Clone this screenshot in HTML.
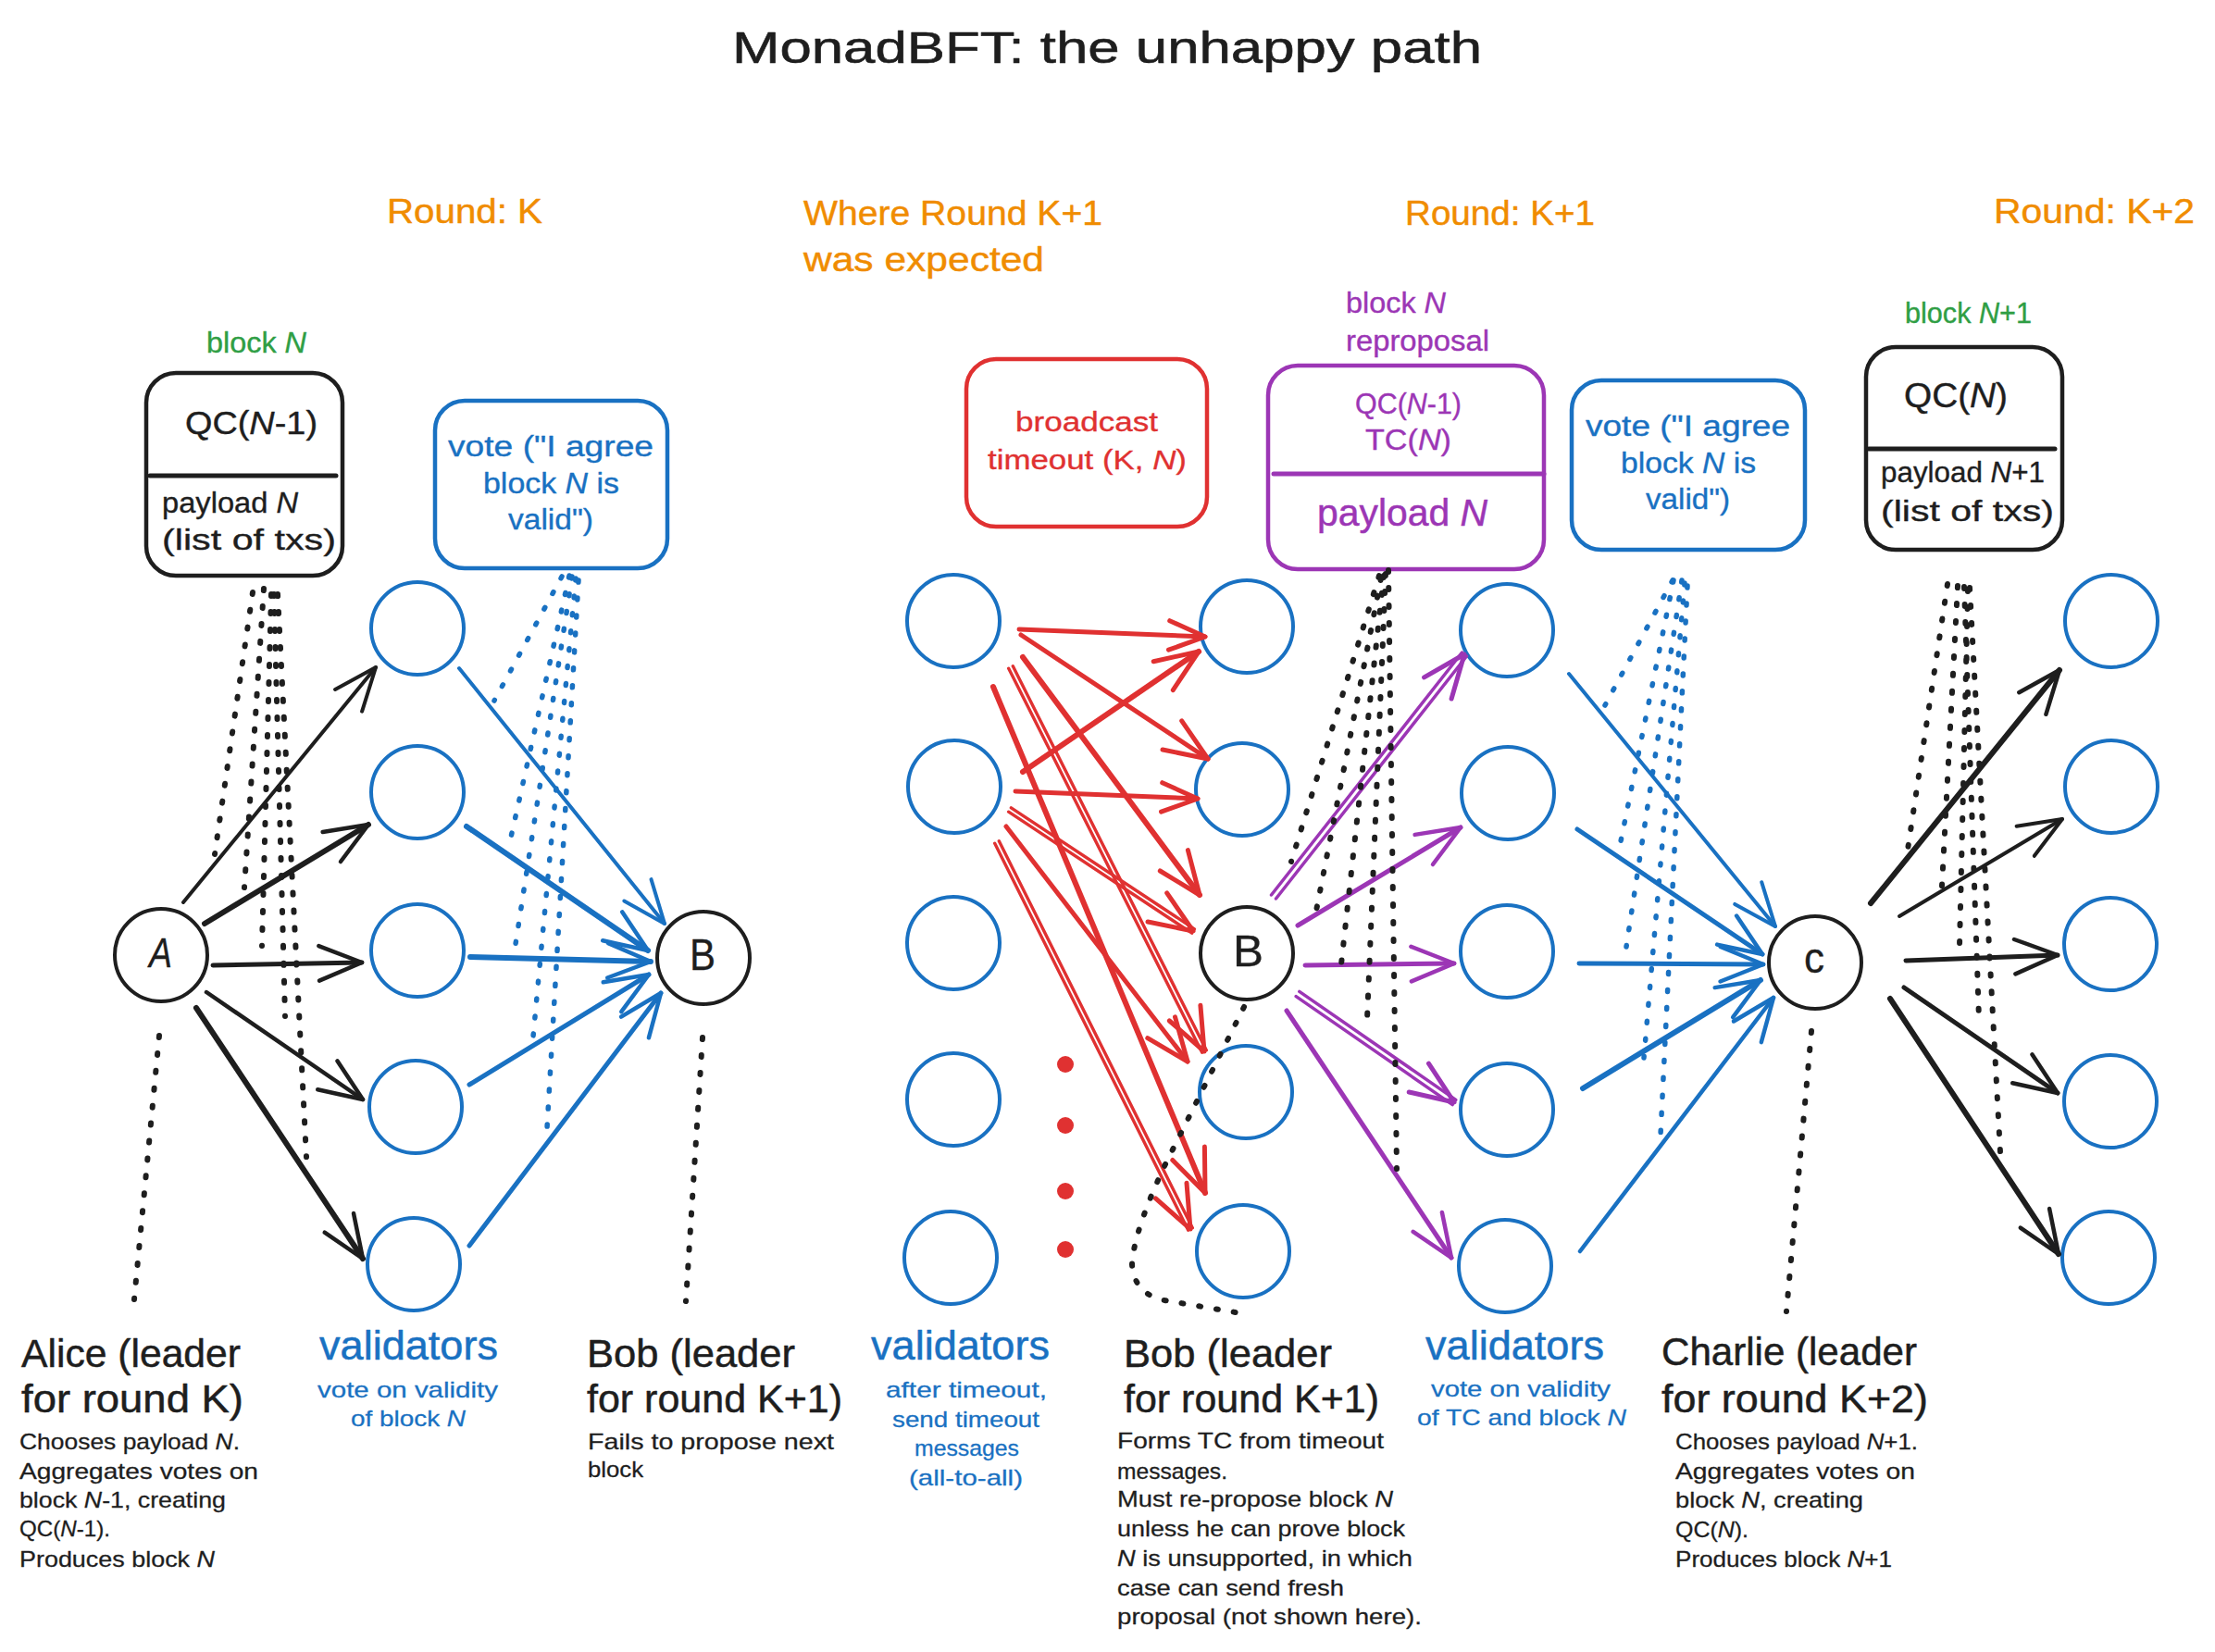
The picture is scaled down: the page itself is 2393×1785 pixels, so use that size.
<!DOCTYPE html>
<html><head><meta charset="utf-8"><style>
html,body{margin:0;padding:0;background:#fff;overflow:hidden;}
svg{display:block;}
text{font-family:"Liberation Sans",sans-serif;}
</style></head><body>
<svg width="2393" height="1785" viewBox="0 0 2393 1785">
<rect width="2393" height="1785" fill="#ffffff"/>
<text x="791" y="68" font-size="48" fill="#1e1e1e" stroke="#1e1e1e" stroke-width="0.58" stroke-linejoin="round" font-weight="normal" textLength="810" lengthAdjust="spacingAndGlyphs">MonadBFT: the unhappy path</text>
<text x="418" y="241" font-size="37" fill="#f08c00" stroke="#f08c00" stroke-width="0.44" stroke-linejoin="round" font-weight="normal" textLength="168" lengthAdjust="spacingAndGlyphs">Round: K</text>
<text x="868" y="243" font-size="37" fill="#f08c00" stroke="#f08c00" stroke-width="0.44" stroke-linejoin="round" font-weight="normal" textLength="323" lengthAdjust="spacingAndGlyphs">Where Round K+1</text>
<text x="868" y="293" font-size="37" fill="#f08c00" stroke="#f08c00" stroke-width="0.44" stroke-linejoin="round" font-weight="normal" textLength="260" lengthAdjust="spacingAndGlyphs">was expected</text>
<text x="1518" y="243" font-size="37" fill="#f08c00" stroke="#f08c00" stroke-width="0.44" stroke-linejoin="round" font-weight="normal" textLength="205" lengthAdjust="spacingAndGlyphs">Round: K+1</text>
<text x="2154" y="241" font-size="37" fill="#f08c00" stroke="#f08c00" stroke-width="0.44" stroke-linejoin="round" font-weight="normal" textLength="217" lengthAdjust="spacingAndGlyphs">Round: K+2</text>
<text x="223" y="381" font-size="31" fill="#2f9e44" stroke="#2f9e44" stroke-width="0.37" stroke-linejoin="round" font-weight="normal" textLength="108" lengthAdjust="spacingAndGlyphs">block <tspan font-style="italic">N</tspan></text>
<text x="2058" y="349" font-size="31" fill="#2f9e44" stroke="#2f9e44" stroke-width="0.37" stroke-linejoin="round" font-weight="normal" textLength="137" lengthAdjust="spacingAndGlyphs">block <tspan font-style="italic">N</tspan>+1</text>
<text x="1454" y="338" font-size="31" fill="#9c36b5" stroke="#9c36b5" stroke-width="0.37" stroke-linejoin="round" font-weight="normal" textLength="108" lengthAdjust="spacingAndGlyphs">block <tspan font-style="italic">N</tspan></text>
<text x="1454" y="379" font-size="31" fill="#9c36b5" stroke="#9c36b5" stroke-width="0.37" stroke-linejoin="round" font-weight="normal" textLength="155" lengthAdjust="spacingAndGlyphs">reproposal</text>
<rect x="158" y="403" width="212" height="219" rx="32" ry="32" fill="none" stroke="#1e1e1e" stroke-width="4.5"/>
<line x1="162" y1="514" x2="363" y2="514" stroke="#1e1e1e" stroke-width="5" stroke-linecap="round"/>
<text x="200" y="469" font-size="35" fill="#1e1e1e" stroke="#1e1e1e" stroke-width="0.42" stroke-linejoin="round" font-weight="normal" textLength="143" lengthAdjust="spacingAndGlyphs">QC(<tspan font-style="italic">N</tspan>-1)</text>
<text x="175" y="554" font-size="31" fill="#1e1e1e" stroke="#1e1e1e" stroke-width="0.37" stroke-linejoin="round" font-weight="normal" textLength="147" lengthAdjust="spacingAndGlyphs">payload <tspan font-style="italic">N</tspan></text>
<text x="175" y="594" font-size="31" fill="#1e1e1e" stroke="#1e1e1e" stroke-width="0.37" stroke-linejoin="round" font-weight="normal" textLength="188" lengthAdjust="spacingAndGlyphs">(list of txs)</text>
<rect x="470" y="433" width="251" height="181" rx="32" ry="32" fill="none" stroke="#1971c2" stroke-width="4.5"/>
<text x="484" y="493" font-size="31" fill="#1971c2" stroke="#1971c2" stroke-width="0.37" stroke-linejoin="round" font-weight="normal" textLength="222" lengthAdjust="spacingAndGlyphs">vote ("I agree</text>
<text x="522" y="533" font-size="31" fill="#1971c2" stroke="#1971c2" stroke-width="0.37" stroke-linejoin="round" font-weight="normal" textLength="147" lengthAdjust="spacingAndGlyphs">block <tspan font-style="italic">N</tspan> is</text>
<text x="549" y="572" font-size="31" fill="#1971c2" stroke="#1971c2" stroke-width="0.37" stroke-linejoin="round" font-weight="normal" textLength="92" lengthAdjust="spacingAndGlyphs">valid")</text>
<rect x="1044" y="388" width="260" height="181" rx="32" ry="32" fill="none" stroke="#e03131" stroke-width="4.5"/>
<text x="1097" y="466" font-size="29" fill="#e03131" stroke="#e03131" stroke-width="0.35" stroke-linejoin="round" font-weight="normal" textLength="154" lengthAdjust="spacingAndGlyphs">broadcast</text>
<text x="1067" y="507" font-size="29" fill="#e03131" stroke="#e03131" stroke-width="0.35" stroke-linejoin="round" font-weight="normal" textLength="215" lengthAdjust="spacingAndGlyphs">timeout (K, <tspan font-style="italic">N</tspan>)</text>
<rect x="1370" y="395" width="298" height="220" rx="32" ry="32" fill="none" stroke="#9c36b5" stroke-width="4.5"/>
<line x1="1376" y1="512" x2="1668" y2="512" stroke="#9c36b5" stroke-width="5" stroke-linecap="round"/>
<text x="1464" y="447" font-size="31" fill="#9c36b5" stroke="#9c36b5" stroke-width="0.37" stroke-linejoin="round" font-weight="normal" textLength="115" lengthAdjust="spacingAndGlyphs">QC(<tspan font-style="italic">N</tspan>-1)</text>
<text x="1475" y="486" font-size="31" fill="#9c36b5" stroke="#9c36b5" stroke-width="0.37" stroke-linejoin="round" font-weight="normal" textLength="93" lengthAdjust="spacingAndGlyphs">TC(<tspan font-style="italic">N</tspan>)</text>
<text x="1423" y="568" font-size="40" fill="#9c36b5" stroke="#9c36b5" stroke-width="0.48" stroke-linejoin="round" font-weight="normal" textLength="184" lengthAdjust="spacingAndGlyphs">payload <tspan font-style="italic">N</tspan></text>
<rect x="1698" y="411" width="252" height="183" rx="32" ry="32" fill="none" stroke="#1971c2" stroke-width="4.5"/>
<text x="1713" y="471" font-size="31" fill="#1971c2" stroke="#1971c2" stroke-width="0.37" stroke-linejoin="round" font-weight="normal" textLength="221" lengthAdjust="spacingAndGlyphs">vote ("I agree</text>
<text x="1751" y="511" font-size="31" fill="#1971c2" stroke="#1971c2" stroke-width="0.37" stroke-linejoin="round" font-weight="normal" textLength="146" lengthAdjust="spacingAndGlyphs">block <tspan font-style="italic">N</tspan> is</text>
<text x="1778" y="550" font-size="31" fill="#1971c2" stroke="#1971c2" stroke-width="0.37" stroke-linejoin="round" font-weight="normal" textLength="91" lengthAdjust="spacingAndGlyphs">valid")</text>
<rect x="2016" y="375" width="212" height="219" rx="32" ry="32" fill="none" stroke="#1e1e1e" stroke-width="4.5"/>
<line x1="2019" y1="485" x2="2220" y2="485" stroke="#1e1e1e" stroke-width="5" stroke-linecap="round"/>
<text x="2057" y="440" font-size="36" fill="#1e1e1e" stroke="#1e1e1e" stroke-width="0.43" stroke-linejoin="round" font-weight="normal" textLength="112" lengthAdjust="spacingAndGlyphs">QC(<tspan font-style="italic">N</tspan>)</text>
<text x="2032" y="521" font-size="31" fill="#1e1e1e" stroke="#1e1e1e" stroke-width="0.37" stroke-linejoin="round" font-weight="normal" textLength="177" lengthAdjust="spacingAndGlyphs">payload <tspan font-style="italic">N</tspan>+1</text>
<text x="2032" y="563" font-size="31" fill="#1e1e1e" stroke="#1e1e1e" stroke-width="0.37" stroke-linejoin="round" font-weight="normal" textLength="187" lengthAdjust="spacingAndGlyphs">(list of txs)</text>
<circle cx="451" cy="679" r="50" fill="none" stroke="#1971c2" stroke-width="4"/>
<circle cx="451" cy="856" r="50" fill="none" stroke="#1971c2" stroke-width="4"/>
<circle cx="451" cy="1027" r="50" fill="none" stroke="#1971c2" stroke-width="4"/>
<circle cx="449" cy="1196" r="50" fill="none" stroke="#1971c2" stroke-width="4"/>
<circle cx="447" cy="1366" r="50" fill="none" stroke="#1971c2" stroke-width="4"/>
<circle cx="1030" cy="671" r="50" fill="none" stroke="#1971c2" stroke-width="4"/>
<circle cx="1031" cy="850" r="50" fill="none" stroke="#1971c2" stroke-width="4"/>
<circle cx="1030" cy="1019" r="50" fill="none" stroke="#1971c2" stroke-width="4"/>
<circle cx="1030" cy="1188" r="50" fill="none" stroke="#1971c2" stroke-width="4"/>
<circle cx="1027" cy="1359" r="50" fill="none" stroke="#1971c2" stroke-width="4"/>
<circle cx="1347" cy="677" r="50" fill="none" stroke="#1971c2" stroke-width="4"/>
<circle cx="1342" cy="853" r="50" fill="none" stroke="#1971c2" stroke-width="4"/>
<circle cx="1346" cy="1180" r="50" fill="none" stroke="#1971c2" stroke-width="4"/>
<circle cx="1343" cy="1352" r="50" fill="none" stroke="#1971c2" stroke-width="4"/>
<circle cx="1628" cy="681" r="50" fill="none" stroke="#1971c2" stroke-width="4"/>
<circle cx="1629" cy="857" r="50" fill="none" stroke="#1971c2" stroke-width="4"/>
<circle cx="1628" cy="1028" r="50" fill="none" stroke="#1971c2" stroke-width="4"/>
<circle cx="1628" cy="1199" r="50" fill="none" stroke="#1971c2" stroke-width="4"/>
<circle cx="1626" cy="1368" r="50" fill="none" stroke="#1971c2" stroke-width="4"/>
<circle cx="2281" cy="671" r="50" fill="none" stroke="#1971c2" stroke-width="4"/>
<circle cx="2281" cy="850" r="50" fill="none" stroke="#1971c2" stroke-width="4"/>
<circle cx="2280" cy="1020" r="50" fill="none" stroke="#1971c2" stroke-width="4"/>
<circle cx="2280" cy="1190" r="50" fill="none" stroke="#1971c2" stroke-width="4"/>
<circle cx="2278" cy="1359" r="50" fill="none" stroke="#1971c2" stroke-width="4"/>
<circle cx="174" cy="1032" r="50" fill="none" stroke="#1e1e1e" stroke-width="4"/>
<circle cx="760" cy="1035" r="50" fill="none" stroke="#1e1e1e" stroke-width="4"/>
<circle cx="1347" cy="1030" r="50" fill="none" stroke="#1e1e1e" stroke-width="4"/>
<circle cx="1961" cy="1040" r="50" fill="none" stroke="#1e1e1e" stroke-width="4"/>
<text x="161" y="1045" font-size="45" fill="#1e1e1e" stroke="#1e1e1e" stroke-width="0.30" stroke-linejoin="round" font-weight="normal" textLength="25" lengthAdjust="spacingAndGlyphs" font-style="italic">A</text>
<text x="745" y="1048" font-size="48" fill="#1e1e1e" stroke="#1e1e1e" stroke-width="0.30" stroke-linejoin="round" font-weight="normal" textLength="28" lengthAdjust="spacingAndGlyphs">B</text>
<text x="1332" y="1044" font-size="49" fill="#1e1e1e" stroke="#1e1e1e" stroke-width="0.30" stroke-linejoin="round" font-weight="normal" textLength="33" lengthAdjust="spacingAndGlyphs">B</text>
<text x="1949" y="1051" font-size="47" fill="#1e1e1e" stroke="#1e1e1e" stroke-width="0.30" stroke-linejoin="round" font-weight="normal" textLength="22" lengthAdjust="spacingAndGlyphs">c</text>
<circle cx="1151" cy="1150" r="9" fill="#e03131"/>
<circle cx="1151" cy="1216" r="9" fill="#e03131"/>
<circle cx="1151" cy="1287" r="9" fill="#e03131"/>
<circle cx="1151" cy="1350" r="9" fill="#e03131"/>
<line x1="198" y1="975" x2="406" y2="721" stroke="#1e1e1e" stroke-width="4" stroke-linecap="round"/>
<polyline points="362.1,745.0 406,721 391.1,768.7" fill="none" stroke="#1e1e1e" stroke-width="4" stroke-linecap="round" stroke-linejoin="round"/>
<line x1="221" y1="998" x2="398" y2="891" stroke="#1e1e1e" stroke-width="6" stroke-linecap="round"/>
<polyline points="348.6,899.0 398,891 368.0,931.0" fill="none" stroke="#1e1e1e" stroke-width="4.5" stroke-linecap="round" stroke-linejoin="round"/>
<line x1="230" y1="1043" x2="391" y2="1040" stroke="#1e1e1e" stroke-width="5" stroke-linecap="round"/>
<polyline points="344.3,1022.1 391,1040 345.0,1059.6" fill="none" stroke="#1e1e1e" stroke-width="4.5" stroke-linecap="round" stroke-linejoin="round"/>
<line x1="223" y1="1072" x2="392" y2="1188" stroke="#1e1e1e" stroke-width="4.5" stroke-linecap="round"/>
<polyline points="364.4,1146.3 392,1188 343.2,1177.2" fill="none" stroke="#1e1e1e" stroke-width="4.5" stroke-linecap="round" stroke-linejoin="round"/>
<line x1="212" y1="1089" x2="392" y2="1360" stroke="#1e1e1e" stroke-width="6" stroke-linecap="round"/>
<polyline points="382.0,1311.0 392,1360 350.7,1331.7" fill="none" stroke="#1e1e1e" stroke-width="4.5" stroke-linecap="round" stroke-linejoin="round"/>
<line x1="496" y1="722" x2="718" y2="998" stroke="#1971c2" stroke-width="4" stroke-linecap="round"/>
<polyline points="703.5,950.1 718,998 674.3,973.6" fill="none" stroke="#1971c2" stroke-width="4" stroke-linecap="round" stroke-linejoin="round"/>
<line x1="504" y1="893" x2="700" y2="1027" stroke="#1971c2" stroke-width="6" stroke-linecap="round"/>
<polyline points="672.3,985.4 700,1027 651.2,1016.3" fill="none" stroke="#1971c2" stroke-width="4.5" stroke-linecap="round" stroke-linejoin="round"/>
<line x1="508" y1="1034" x2="703" y2="1039" stroke="#1971c2" stroke-width="6" stroke-linecap="round"/>
<polyline points="657.1,1019.1 703,1039 656.2,1056.5" fill="none" stroke="#1971c2" stroke-width="4.5" stroke-linecap="round" stroke-linejoin="round"/>
<line x1="507" y1="1172" x2="701" y2="1053" stroke="#1971c2" stroke-width="5" stroke-linecap="round"/>
<polyline points="651.7,1061.3 701,1053 671.3,1093.2" fill="none" stroke="#1971c2" stroke-width="4.5" stroke-linecap="round" stroke-linejoin="round"/>
<line x1="507" y1="1346" x2="714" y2="1073" stroke="#1971c2" stroke-width="5" stroke-linecap="round"/>
<polyline points="671.1,1098.6 714,1073 700.9,1121.3" fill="none" stroke="#1971c2" stroke-width="4.5" stroke-linecap="round" stroke-linejoin="round"/>
<line x1="1101" y1="680" x2="1302" y2="688" stroke="#e03131" stroke-width="5" stroke-linecap="round"/>
<polyline points="1263.7,670.7 1302,688 1262.5,702.2" fill="none" stroke="#e03131" stroke-width="5" stroke-linecap="round" stroke-linejoin="round"/>
<line x1="1103" y1="686" x2="1305" y2="820" stroke="#e03131" stroke-width="5" stroke-linecap="round"/>
<polyline points="1276.7,778.8 1305,820 1256.0,810.0" fill="none" stroke="#e03131" stroke-width="5" stroke-linecap="round" stroke-linejoin="round"/>
<line x1="1105" y1="710" x2="1296" y2="967" stroke="#e03131" stroke-width="6" stroke-linecap="round"/>
<polyline points="1283.4,918.6 1296,967 1253.3,941.0" fill="none" stroke="#e03131" stroke-width="5" stroke-linecap="round" stroke-linejoin="round"/>
<line x1="1094.3" y1="719.8" x2="1303.3" y2="1134.8" stroke="#e03131" stroke-width="3.4" stroke-linecap="round"/>
<line x1="1089.7" y1="722.2" x2="1298.7" y2="1137.2" stroke="#e03131" stroke-width="3.4" stroke-linecap="round"/>
<polyline points="1296.9,1086.2 1301,1136 1263.4,1103.0" fill="none" stroke="#e03131" stroke-width="5" stroke-linecap="round" stroke-linejoin="round"/>
<line x1="1073" y1="742" x2="1302" y2="1289" stroke="#e03131" stroke-width="6" stroke-linecap="round"/>
<polyline points="1301.4,1239.0 1302,1289 1266.8,1253.5" fill="none" stroke="#e03131" stroke-width="5" stroke-linecap="round" stroke-linejoin="round"/>
<line x1="1105" y1="834" x2="1295" y2="704" stroke="#e03131" stroke-width="6" stroke-linecap="round"/>
<polyline points="1246.2,714.7 1295,704 1267.3,745.6" fill="none" stroke="#e03131" stroke-width="5" stroke-linecap="round" stroke-linejoin="round"/>
<line x1="1097" y1="855" x2="1294" y2="863" stroke="#e03131" stroke-width="5" stroke-linecap="round"/>
<polyline points="1255.7,845.7 1294,863 1254.5,877.1" fill="none" stroke="#e03131" stroke-width="5" stroke-linecap="round" stroke-linejoin="round"/>
<line x1="1092.4" y1="872.8" x2="1290.4" y2="1003.8" stroke="#e03131" stroke-width="3.4" stroke-linecap="round"/>
<line x1="1089.6" y1="877.2" x2="1287.6" y2="1008.2" stroke="#e03131" stroke-width="3.4" stroke-linecap="round"/>
<polyline points="1260.7,964.8 1289,1006 1240.0,996.0" fill="none" stroke="#e03131" stroke-width="5" stroke-linecap="round" stroke-linejoin="round"/>
<line x1="1087" y1="893" x2="1283" y2="1147" stroke="#e03131" stroke-width="5" stroke-linecap="round"/>
<polyline points="1269.5,1098.9 1283,1147 1239.8,1121.7" fill="none" stroke="#e03131" stroke-width="5" stroke-linecap="round" stroke-linejoin="round"/>
<line x1="1079.3" y1="908.8" x2="1288.3" y2="1326.8" stroke="#e03131" stroke-width="3.4" stroke-linecap="round"/>
<line x1="1074.7" y1="911.2" x2="1283.7" y2="1329.2" stroke="#e03131" stroke-width="3.4" stroke-linecap="round"/>
<polyline points="1282.0,1278.2 1286,1328 1248.5,1294.9" fill="none" stroke="#e03131" stroke-width="5" stroke-linecap="round" stroke-linejoin="round"/>
<line x1="1373.5" y1="967.0" x2="1579.5" y2="705.0" stroke="#9c36b5" stroke-width="3.5" stroke-linecap="round"/>
<line x1="1378.5" y1="971.0" x2="1584.5" y2="709.0" stroke="#9c36b5" stroke-width="3.5" stroke-linecap="round"/>
<polyline points="1538.6,731.9 1582,707 1568.1,755.0" fill="none" stroke="#9c36b5" stroke-width="5" stroke-linecap="round" stroke-linejoin="round"/>
<line x1="1402" y1="1000" x2="1578" y2="894" stroke="#9c36b5" stroke-width="5" stroke-linecap="round"/>
<polyline points="1528.6,901.9 1578,894 1548.0,934.0" fill="none" stroke="#9c36b5" stroke-width="4.5" stroke-linecap="round" stroke-linejoin="round"/>
<line x1="1410" y1="1043" x2="1571" y2="1041" stroke="#9c36b5" stroke-width="5" stroke-linecap="round"/>
<polyline points="1524.4,1022.8 1571,1041 1524.9,1060.3" fill="none" stroke="#9c36b5" stroke-width="4.5" stroke-linecap="round" stroke-linejoin="round"/>
<line x1="1403.8" y1="1071.4" x2="1572.8" y2="1188.4" stroke="#9c36b5" stroke-width="3.5" stroke-linecap="round"/>
<line x1="1400.2" y1="1076.6" x2="1569.2" y2="1193.6" stroke="#9c36b5" stroke-width="3.5" stroke-linecap="round"/>
<polyline points="1543.5,1149.2 1571,1191 1522.2,1180.0" fill="none" stroke="#9c36b5" stroke-width="5" stroke-linecap="round" stroke-linejoin="round"/>
<line x1="1390" y1="1092" x2="1568" y2="1359" stroke="#9c36b5" stroke-width="5" stroke-linecap="round"/>
<polyline points="1557.9,1310.0 1568,1359 1526.7,1330.8" fill="none" stroke="#9c36b5" stroke-width="4.5" stroke-linecap="round" stroke-linejoin="round"/>
<line x1="1695" y1="728" x2="1918" y2="1001" stroke="#1971c2" stroke-width="4" stroke-linecap="round"/>
<polyline points="1903.2,953.2 1918,1001 1874.2,976.9" fill="none" stroke="#1971c2" stroke-width="4" stroke-linecap="round" stroke-linejoin="round"/>
<line x1="1704" y1="896" x2="1904" y2="1031" stroke="#1971c2" stroke-width="5" stroke-linecap="round"/>
<polyline points="1876.1,989.5 1904,1031 1855.1,1020.6" fill="none" stroke="#1971c2" stroke-width="4.5" stroke-linecap="round" stroke-linejoin="round"/>
<line x1="1706" y1="1041" x2="1905" y2="1042" stroke="#1971c2" stroke-width="5" stroke-linecap="round"/>
<polyline points="1858.7,1023.0 1905,1042 1858.5,1060.5" fill="none" stroke="#1971c2" stroke-width="4.5" stroke-linecap="round" stroke-linejoin="round"/>
<line x1="1710" y1="1176" x2="1902" y2="1059" stroke="#1971c2" stroke-width="6" stroke-linecap="round"/>
<polyline points="1852.7,1067.1 1902,1059 1872.2,1099.1" fill="none" stroke="#1971c2" stroke-width="4.5" stroke-linecap="round" stroke-linejoin="round"/>
<line x1="1707" y1="1352" x2="1916" y2="1078" stroke="#1971c2" stroke-width="4.5" stroke-linecap="round"/>
<polyline points="1873.0,1103.5 1916,1078 1902.8,1126.2" fill="none" stroke="#1971c2" stroke-width="4.5" stroke-linecap="round" stroke-linejoin="round"/>
<line x1="2021" y1="976" x2="2225" y2="724" stroke="#1e1e1e" stroke-width="6" stroke-linecap="round"/>
<polyline points="2181.3,748.2 2225,724 2210.4,771.8" fill="none" stroke="#1e1e1e" stroke-width="4.5" stroke-linecap="round" stroke-linejoin="round"/>
<line x1="2052" y1="990" x2="2228" y2="885" stroke="#1e1e1e" stroke-width="4" stroke-linecap="round"/>
<polyline points="2178.6,892.7 2228,885 2197.8,924.8" fill="none" stroke="#1e1e1e" stroke-width="4" stroke-linecap="round" stroke-linejoin="round"/>
<line x1="2059" y1="1038" x2="2223" y2="1032" stroke="#1e1e1e" stroke-width="5" stroke-linecap="round"/>
<polyline points="2176.0,1015.0 2223,1032 2177.4,1052.4" fill="none" stroke="#1e1e1e" stroke-width="4.5" stroke-linecap="round" stroke-linejoin="round"/>
<line x1="2057" y1="1067" x2="2223" y2="1181" stroke="#1e1e1e" stroke-width="5" stroke-linecap="round"/>
<polyline points="2195.4,1139.3 2223,1181 2174.2,1170.2" fill="none" stroke="#1e1e1e" stroke-width="4.5" stroke-linecap="round" stroke-linejoin="round"/>
<line x1="2042" y1="1079" x2="2224" y2="1355" stroke="#1e1e1e" stroke-width="6" stroke-linecap="round"/>
<polyline points="2214.1,1306.0 2224,1355 2182.8,1326.6" fill="none" stroke="#1e1e1e" stroke-width="4.5" stroke-linecap="round" stroke-linejoin="round"/>
<line x1="273" y1="640" x2="232" y2="923" stroke="#1e1e1e" stroke-width="6" stroke-linecap="round" stroke-dasharray="2 17"/>
<line x1="285" y1="636" x2="264" y2="959" stroke="#1e1e1e" stroke-width="6" stroke-linecap="round" stroke-dasharray="2 17"/>
<line x1="293" y1="642" x2="283" y2="1022" stroke="#1e1e1e" stroke-width="6" stroke-linecap="round" stroke-dasharray="2 17"/>
<line x1="296" y1="642" x2="308" y2="1098" stroke="#1e1e1e" stroke-width="6" stroke-linecap="round" stroke-dasharray="2 17"/>
<line x1="300" y1="642" x2="331" y2="1250" stroke="#1e1e1e" stroke-width="6" stroke-linecap="round" stroke-dasharray="2 17"/>
<line x1="607" y1="623" x2="534" y2="757" stroke="#1971c2" stroke-width="5.5" stroke-linecap="round" stroke-dasharray="2 17"/>
<line x1="615" y1="622" x2="551" y2="909" stroke="#1971c2" stroke-width="5.5" stroke-linecap="round" stroke-dasharray="2 17"/>
<line x1="618" y1="623" x2="557" y2="1020" stroke="#1971c2" stroke-width="5.5" stroke-linecap="round" stroke-dasharray="2 17"/>
<line x1="622" y1="625" x2="576" y2="1120" stroke="#1971c2" stroke-width="5.5" stroke-linecap="round" stroke-dasharray="2 17"/>
<line x1="625" y1="627" x2="591" y2="1219" stroke="#1971c2" stroke-width="5.5" stroke-linecap="round" stroke-dasharray="2 17"/>
<line x1="1490" y1="622" x2="1395" y2="931" stroke="#1e1e1e" stroke-width="6" stroke-linecap="round" stroke-dasharray="2 17"/>
<line x1="1492" y1="625" x2="1422" y2="984" stroke="#1e1e1e" stroke-width="6" stroke-linecap="round" stroke-dasharray="2 17"/>
<line x1="1495" y1="622" x2="1449" y2="1042" stroke="#1e1e1e" stroke-width="6" stroke-linecap="round" stroke-dasharray="2 17"/>
<line x1="1497" y1="620" x2="1477" y2="1101" stroke="#1e1e1e" stroke-width="6" stroke-linecap="round" stroke-dasharray="2 17"/>
<line x1="1500" y1="616" x2="1509" y2="1263" stroke="#1e1e1e" stroke-width="6" stroke-linecap="round" stroke-dasharray="2 17"/>
<line x1="1807" y1="627" x2="1734" y2="762" stroke="#1971c2" stroke-width="5.5" stroke-linecap="round" stroke-dasharray="2 17"/>
<line x1="1808" y1="627" x2="1750" y2="914" stroke="#1971c2" stroke-width="5.5" stroke-linecap="round" stroke-dasharray="2 17"/>
<line x1="1817" y1="627" x2="1757" y2="1023" stroke="#1971c2" stroke-width="5.5" stroke-linecap="round" stroke-dasharray="2 17"/>
<line x1="1820" y1="630" x2="1776" y2="1143" stroke="#1971c2" stroke-width="5.5" stroke-linecap="round" stroke-dasharray="2 17"/>
<line x1="1823" y1="633" x2="1794" y2="1226" stroke="#1971c2" stroke-width="5.5" stroke-linecap="round" stroke-dasharray="2 17"/>
<line x1="2104" y1="631" x2="2061" y2="918" stroke="#1e1e1e" stroke-width="6" stroke-linecap="round" stroke-dasharray="2 17"/>
<line x1="2115" y1="633" x2="2098" y2="957" stroke="#1e1e1e" stroke-width="6" stroke-linecap="round" stroke-dasharray="2 17"/>
<line x1="2126" y1="637" x2="2117" y2="1022" stroke="#1e1e1e" stroke-width="6" stroke-linecap="round" stroke-dasharray="2 17"/>
<line x1="2122" y1="634" x2="2138" y2="1101" stroke="#1e1e1e" stroke-width="6" stroke-linecap="round" stroke-dasharray="2 17"/>
<line x1="2128" y1="635" x2="2161" y2="1245" stroke="#1e1e1e" stroke-width="6" stroke-linecap="round" stroke-dasharray="2 17"/>
<line x1="172" y1="1119" x2="145" y2="1404" stroke="#1e1e1e" stroke-width="6" stroke-linecap="round" stroke-dasharray="2 17"/>
<line x1="759" y1="1121" x2="741" y2="1406" stroke="#1e1e1e" stroke-width="6" stroke-linecap="round" stroke-dasharray="2 17"/>
<line x1="1957" y1="1114" x2="1930" y2="1417" stroke="#1e1e1e" stroke-width="6" stroke-linecap="round" stroke-dasharray="2 17"/>
<path d="M1344,1088 L1259,1258 Q1225,1330 1223,1366 Q1225,1398 1258,1405 L1335,1418" fill="none" stroke="#1e1e1e" stroke-width="6" stroke-linecap="round" stroke-dasharray="2 17"/>
<text x="23" y="1477" font-size="42" fill="#1e1e1e" stroke="#1e1e1e" stroke-width="0.50" stroke-linejoin="round" font-weight="normal" textLength="237" lengthAdjust="spacingAndGlyphs">Alice (leader</text>
<text x="23" y="1526" font-size="42" fill="#1e1e1e" stroke="#1e1e1e" stroke-width="0.50" stroke-linejoin="round" font-weight="normal" textLength="240" lengthAdjust="spacingAndGlyphs">for round K)</text>
<text x="634" y="1477" font-size="42" fill="#1e1e1e" stroke="#1e1e1e" stroke-width="0.50" stroke-linejoin="round" font-weight="normal" textLength="225" lengthAdjust="spacingAndGlyphs">Bob (leader</text>
<text x="634" y="1526" font-size="42" fill="#1e1e1e" stroke="#1e1e1e" stroke-width="0.50" stroke-linejoin="round" font-weight="normal" textLength="276" lengthAdjust="spacingAndGlyphs">for round K+1)</text>
<text x="1214" y="1477" font-size="42" fill="#1e1e1e" stroke="#1e1e1e" stroke-width="0.50" stroke-linejoin="round" font-weight="normal" textLength="225" lengthAdjust="spacingAndGlyphs">Bob (leader</text>
<text x="1214" y="1526" font-size="42" fill="#1e1e1e" stroke="#1e1e1e" stroke-width="0.50" stroke-linejoin="round" font-weight="normal" textLength="276" lengthAdjust="spacingAndGlyphs">for round K+1)</text>
<text x="1795" y="1475" font-size="42" fill="#1e1e1e" stroke="#1e1e1e" stroke-width="0.50" stroke-linejoin="round" font-weight="normal" textLength="276" lengthAdjust="spacingAndGlyphs">Charlie (leader</text>
<text x="1795" y="1526" font-size="42" fill="#1e1e1e" stroke="#1e1e1e" stroke-width="0.50" stroke-linejoin="round" font-weight="normal" textLength="288" lengthAdjust="spacingAndGlyphs">for round K+2)</text>
<text x="345" y="1469" font-size="44" fill="#1971c2" stroke="#1971c2" stroke-width="0.53" stroke-linejoin="round" font-weight="normal" textLength="193" lengthAdjust="spacingAndGlyphs">validators</text>
<text x="941" y="1469" font-size="44" fill="#1971c2" stroke="#1971c2" stroke-width="0.53" stroke-linejoin="round" font-weight="normal" textLength="193" lengthAdjust="spacingAndGlyphs">validators</text>
<text x="1540" y="1469" font-size="44" fill="#1971c2" stroke="#1971c2" stroke-width="0.53" stroke-linejoin="round" font-weight="normal" textLength="193" lengthAdjust="spacingAndGlyphs">validators</text>
<text x="343" y="1510" font-size="24" fill="#1971c2" stroke="#1971c2" stroke-width="0.29" stroke-linejoin="round" font-weight="normal" textLength="195" lengthAdjust="spacingAndGlyphs">vote on validity</text>
<text x="379" y="1541" font-size="24" fill="#1971c2" stroke="#1971c2" stroke-width="0.29" stroke-linejoin="round" font-weight="normal" textLength="124" lengthAdjust="spacingAndGlyphs">of block <tspan font-style="italic">N</tspan></text>
<text x="957" y="1510" font-size="24" fill="#1971c2" stroke="#1971c2" stroke-width="0.29" stroke-linejoin="round" font-weight="normal" textLength="174" lengthAdjust="spacingAndGlyphs">after timeout,</text>
<text x="964" y="1542" font-size="24" fill="#1971c2" stroke="#1971c2" stroke-width="0.29" stroke-linejoin="round" font-weight="normal" textLength="159" lengthAdjust="spacingAndGlyphs">send timeout</text>
<text x="988" y="1573" font-size="24" fill="#1971c2" stroke="#1971c2" stroke-width="0.29" stroke-linejoin="round" font-weight="normal" textLength="113" lengthAdjust="spacingAndGlyphs">messages</text>
<text x="982" y="1605" font-size="24" fill="#1971c2" stroke="#1971c2" stroke-width="0.29" stroke-linejoin="round" font-weight="normal" textLength="123" lengthAdjust="spacingAndGlyphs">(all-to-all)</text>
<text x="1546" y="1509" font-size="24" fill="#1971c2" stroke="#1971c2" stroke-width="0.29" stroke-linejoin="round" font-weight="normal" textLength="194" lengthAdjust="spacingAndGlyphs">vote on validity</text>
<text x="1531" y="1540" font-size="24" fill="#1971c2" stroke="#1971c2" stroke-width="0.29" stroke-linejoin="round" font-weight="normal" textLength="226" lengthAdjust="spacingAndGlyphs">of TC and block <tspan font-style="italic">N</tspan></text>
<text x="21" y="1566" font-size="24" fill="#1e1e1e" stroke="#1e1e1e" stroke-width="0.29" stroke-linejoin="round" font-weight="normal" textLength="238" lengthAdjust="spacingAndGlyphs">Chooses payload <tspan font-style="italic">N</tspan>.</text>
<text x="21" y="1598" font-size="24" fill="#1e1e1e" stroke="#1e1e1e" stroke-width="0.29" stroke-linejoin="round" font-weight="normal" textLength="258" lengthAdjust="spacingAndGlyphs">Aggregates votes on</text>
<text x="21" y="1629" font-size="24" fill="#1e1e1e" stroke="#1e1e1e" stroke-width="0.29" stroke-linejoin="round" font-weight="normal" textLength="223" lengthAdjust="spacingAndGlyphs">block <tspan font-style="italic">N</tspan>-1, creating</text>
<text x="21" y="1660" font-size="24" fill="#1e1e1e" stroke="#1e1e1e" stroke-width="0.29" stroke-linejoin="round" font-weight="normal" textLength="98" lengthAdjust="spacingAndGlyphs">QC(<tspan font-style="italic">N</tspan>-1).</text>
<text x="21" y="1693" font-size="24" fill="#1e1e1e" stroke="#1e1e1e" stroke-width="0.29" stroke-linejoin="round" font-weight="normal" textLength="211" lengthAdjust="spacingAndGlyphs">Produces block <tspan font-style="italic">N</tspan></text>
<text x="635" y="1566" font-size="24" fill="#1e1e1e" stroke="#1e1e1e" stroke-width="0.29" stroke-linejoin="round" font-weight="normal" textLength="266" lengthAdjust="spacingAndGlyphs">Fails to propose next</text>
<text x="635" y="1596" font-size="24" fill="#1e1e1e" stroke="#1e1e1e" stroke-width="0.29" stroke-linejoin="round" font-weight="normal" textLength="60" lengthAdjust="spacingAndGlyphs">block</text>
<text x="1207" y="1565" font-size="24" fill="#1e1e1e" stroke="#1e1e1e" stroke-width="0.29" stroke-linejoin="round" font-weight="normal" textLength="288" lengthAdjust="spacingAndGlyphs">Forms TC from timeout</text>
<text x="1207" y="1598" font-size="24" fill="#1e1e1e" stroke="#1e1e1e" stroke-width="0.29" stroke-linejoin="round" font-weight="normal" textLength="119" lengthAdjust="spacingAndGlyphs">messages.</text>
<text x="1207" y="1628" font-size="24" fill="#1e1e1e" stroke="#1e1e1e" stroke-width="0.29" stroke-linejoin="round" font-weight="normal" textLength="298" lengthAdjust="spacingAndGlyphs">Must re-propose block <tspan font-style="italic">N</tspan></text>
<text x="1207" y="1660" font-size="24" fill="#1e1e1e" stroke="#1e1e1e" stroke-width="0.29" stroke-linejoin="round" font-weight="normal" textLength="311" lengthAdjust="spacingAndGlyphs">unless he can prove block</text>
<text x="1207" y="1692" font-size="24" fill="#1e1e1e" stroke="#1e1e1e" stroke-width="0.29" stroke-linejoin="round" font-weight="normal" textLength="319" lengthAdjust="spacingAndGlyphs"><tspan font-style="italic">N</tspan> is unsupported, in which</text>
<text x="1207" y="1724" font-size="24" fill="#1e1e1e" stroke="#1e1e1e" stroke-width="0.29" stroke-linejoin="round" font-weight="normal" textLength="245" lengthAdjust="spacingAndGlyphs">case can send fresh</text>
<text x="1207" y="1755" font-size="24" fill="#1e1e1e" stroke="#1e1e1e" stroke-width="0.29" stroke-linejoin="round" font-weight="normal" textLength="329" lengthAdjust="spacingAndGlyphs">proposal (not shown here).</text>
<text x="1810" y="1566" font-size="24" fill="#1e1e1e" stroke="#1e1e1e" stroke-width="0.29" stroke-linejoin="round" font-weight="normal" textLength="262" lengthAdjust="spacingAndGlyphs">Chooses payload <tspan font-style="italic">N</tspan>+1.</text>
<text x="1810" y="1598" font-size="24" fill="#1e1e1e" stroke="#1e1e1e" stroke-width="0.29" stroke-linejoin="round" font-weight="normal" textLength="259" lengthAdjust="spacingAndGlyphs">Aggregates votes on</text>
<text x="1810" y="1629" font-size="24" fill="#1e1e1e" stroke="#1e1e1e" stroke-width="0.29" stroke-linejoin="round" font-weight="normal" textLength="203" lengthAdjust="spacingAndGlyphs">block <tspan font-style="italic">N</tspan>, creating</text>
<text x="1810" y="1661" font-size="24" fill="#1e1e1e" stroke="#1e1e1e" stroke-width="0.29" stroke-linejoin="round" font-weight="normal" textLength="79" lengthAdjust="spacingAndGlyphs">QC(<tspan font-style="italic">N</tspan>).</text>
<text x="1810" y="1693" font-size="24" fill="#1e1e1e" stroke="#1e1e1e" stroke-width="0.29" stroke-linejoin="round" font-weight="normal" textLength="234" lengthAdjust="spacingAndGlyphs">Produces block <tspan font-style="italic">N</tspan>+1</text>
</svg></body></html>
